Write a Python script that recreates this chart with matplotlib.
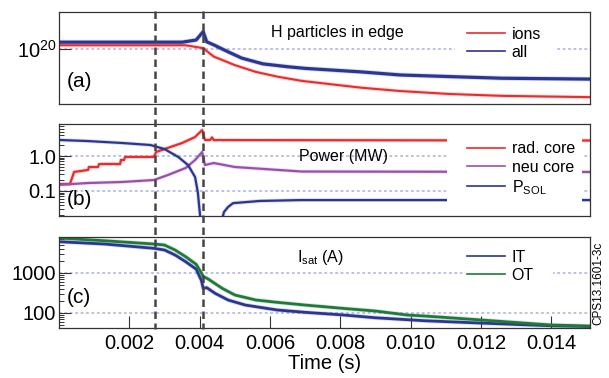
import numpy as np
import matplotlib
matplotlib.use("Agg")
import matplotlib.pyplot as plt
from matplotlib.lines import Line2D
from matplotlib.patches import Rectangle
from matplotlib.ticker import LogLocator, NullFormatter, FixedLocator
import matplotlib.transforms as mtransforms
import matplotlib.patheffects as pe

plt.rcParams['font.family'] = ['Liberation Sans', 'DejaVu Sans']
plt.rcParams['mathtext.fontset'] = 'custom'
plt.rcParams['mathtext.rm'] = 'Liberation Sans'
plt.rcParams['mathtext.it'] = 'Liberation Sans:italic'

# ---------------- data ----------------
# (a) H particles in edge (units of 1e20)
t_ions = [0, 0.0036, 0.0041, 0.0044, 0.0050, 0.0056, 0.0062, 0.0069, 0.0086, 0.0097, 0.0111, 0.0126, 0.0151]
ions = [1.09, 1.09, 1.02, 0.84, 0.69, 0.59, 0.53, 0.48, 0.41, 0.38, 0.355, 0.34, 0.33]
t_all = [0, 0.0035, 0.0039, 0.0041, 0.0042, 0.0044, 0.0048, 0.0052, 0.0058, 0.0065, 0.0070, 0.0086, 0.0097, 0.0111, 0.0126, 0.0151]
all_p = [1.17, 1.17, 1.23, 1.49, 1.18, 1.10, 0.94, 0.81, 0.71, 0.665, 0.64, 0.59, 0.55, 0.53, 0.51, 0.50]

# (b) Power (MW)
t_rad = [0, 0.00031, 0.00043, 0.00083, 0.00085, 0.00111, 0.00114, 0.00174, 0.00176, 0.00185, 0.00188,
         0.0027, 0.00276, 0.0030, 0.0035, 0.00387, 0.00407, 0.00415, 0.0043, 0.00435, 0.0044, 0.0151]
rad_core = [0.158, 0.158, 0.35, 0.40, 0.485, 0.485, 0.59, 0.59, 0.77, 0.77, 0.94,
            0.94, 1.30, 1.58, 2.35, 3.49, 5.5, 2.87, 2.87, 3.4, 2.85, 2.77]
t_neu = [0, 0.00083, 0.0018, 0.0027, 0.0031, 0.0036, 0.00387, 0.00407, 0.00415, 0.0044, 0.0050, 0.0069, 0.0151]
neu_core = [0.15, 0.169, 0.181, 0.206, 0.287, 0.454, 0.77, 1.30, 0.553, 0.63, 0.485, 0.36, 0.35]
t_psol = [0, 0.0008, 0.0018, 0.0026, 0.0030, 0.00339, 0.00367, 0.00387, 0.00395, 0.00404, 0.0043,
          0.00461, 0.00469, 0.00481, 0.00495, 0.00572, 0.00686, 0.0151]
p_sol = [2.87, 2.68, 2.35, 2.06, 1.58, 0.94, 0.55, 0.25, 0.088, 0.01, np.nan,
         0.012, 0.025, 0.035, 0.045, 0.052, 0.055, 0.055]

# (c) Isat (A)
t_ot = [0, 0.0013, 0.0027, 0.0030, 0.0033, 0.0036, 0.0039, 0.00405, 0.0041, 0.00424, 0.00464, 0.0050,
        0.0056, 0.0062, 0.0070, 0.0081, 0.0090, 0.0099, 0.0104, 0.0120, 0.0140, 0.0151]
ot = [7500, 6400, 5300, 5000, 3760, 2560, 1650, 1000, 820, 710, 414, 282,
      211, 185, 158, 130, 112, 89, 84, 67, 50, 47]
t_it = [0, 0.0013, 0.0027, 0.0030, 0.0033, 0.0036, 0.0039, 0.00405, 0.0041, 0.0042, 0.00444, 0.00481,
        0.0053, 0.0062, 0.0070, 0.0081, 0.0090, 0.0104, 0.0120, 0.0140, 0.0151]
it = [6060, 5300, 4140, 3760, 2820, 1920, 1250, 650, 414, 430, 310, 211,
      158, 119, 104, 89, 76, 64, 56, 48, 46]

t_events = [0.00273, 0.0041]
x_ticks = [0.002, 0.004, 0.006, 0.008, 0.010, 0.012, 0.014]
x_ticklabels = ['0.002', '0.004', '0.006', '0.008', '0.010', '0.012', '0.014']

# ---------------- style ----------------
RED = '#ee2a2a'
BLUE = '#2b3592'
PURPLE = '#9a4fae'
GREEN = '#1f7a3a'
GRID = '#b4bbe8'

W, H = 609, 378
fig = plt.figure(figsize=(W / 100, H / 100), dpi=100)

def ax_rect(top, bottom):
    return [59 / W, 1 - bottom / H, 531 / W, (bottom - top) / H]

ax_a = fig.add_axes(ax_rect(12, 104))
ax_b = fig.add_axes(ax_rect(124, 216))
ax_c = fig.add_axes(ax_rect(237, 328))

def halo(lw):
    return [pe.Stroke(linewidth=lw + 1.2, alpha=0.18), pe.Normal()]

for ax in (ax_a, ax_b, ax_c):
    ax.set_xlim(0, 0.0151)
    ax.set_yscale('log')
    for s in ax.spines.values():
        s.set_color('#333333')
        s.set_linewidth(0.9)
    ax.tick_params(axis='both', which='major', direction='in', length=8.5, width=0.8,
                   labelsize=14.5, pad=2, color='#333333')
    ax.tick_params(axis='both', which='minor', direction='in', length=3.5, width=0.7, color='#333333')
    ax.tick_params(axis='x', which='both', bottom=False, top=False, labelbottom=False)
    ax.tick_params(axis='y', which='both', right=False)

# panel a
ax_a.plot(t_ions, np.array(ions) * 1e20, color=RED, lw=1.5, zorder=2, path_effects=halo(1.5))
ax_a.plot(t_all, np.array(all_p) * 1e20, color=BLUE, lw=2.3, zorder=2, path_effects=halo(2.3))
ax_a.set_ylim(10 ** 19.45, 10 ** 20.37)
ax_a.yaxis.set_major_locator(FixedLocator([1e20]))
ax_a.set_yticklabels([r'$10^{20}$'])
ax_a.yaxis.set_minor_locator(FixedLocator([]))
ax_a.axhline(1e20, color=GRID, lw=1.3, ls=(0, (1.5, 1.5)), zorder=1)

# panel b
ax_b.plot(t_rad, rad_core, color=RED, lw=1.6, zorder=2, path_effects=halo(1.6))
ax_b.plot(t_neu, neu_core, color=PURPLE, lw=1.6, zorder=2, path_effects=halo(1.6))
ax_b.plot(t_psol, p_sol, color=BLUE, lw=1.6, zorder=2, path_effects=halo(1.6))
ax_b.set_ylim(10 ** (-1 - 25 / 35), 10 ** (32 / 35))
ax_b.yaxis.set_major_locator(FixedLocator([0.1, 1.0]))
ax_b.set_yticklabels(['0.1', '1.0'])
ax_b.yaxis.set_minor_locator(LogLocator(subs=np.arange(2, 10)))
ax_b.yaxis.set_minor_formatter(NullFormatter())
for g in (0.1, 1.0):
    ax_b.axhline(g, color=GRID, lw=1.3, ls=(0, (1.5, 1.5)), zorder=1)

# panel c
ax_c.plot(t_it, it, color=BLUE, lw=2.0, zorder=2, path_effects=halo(2.0))
ax_c.plot(t_ot, ot, color=GREEN, lw=2.0, zorder=2, path_effects=halo(2.0))
ax_c.set_ylim(10 ** 1.625, 10 ** 3.9)
ax_c.yaxis.set_major_locator(FixedLocator([100, 1000]))
ax_c.set_yticklabels(['100', '1000'])
ax_c.yaxis.set_minor_locator(LogLocator(subs=np.arange(2, 10)))
ax_c.yaxis.set_minor_formatter(NullFormatter())
for g in (100, 1000):
    ax_c.axhline(g, color=GRID, lw=1.3, ls=(0, (1.5, 1.5)), zorder=1)
ax_c.tick_params(axis='x', which='major', bottom=True, labelbottom=True, pad=4)
ax_c.set_xticks(x_ticks)
ax_c.set_xticklabels(x_ticklabels)
ax_c.set_xlabel('Time (s)', fontsize=14.5, labelpad=1)

# white covers behind legends
for ax, (x0, x1, y0, y1) in ((ax_a, (0.746, 0.934, 0.478, 0.859)),
                             (ax_b, (0.731, 0.985, 0.087, 0.935)),
                             (ax_c, (0.761, 0.930, 0.418, 0.912))):
    ax.add_patch(Rectangle((x0, y0), x1 - x0, y1 - y0, transform=ax.transAxes,
                           facecolor='white', edgecolor='none', zorder=3))

leg_kw = dict(loc='upper left', frameon=False, fontsize=11.5, handlelength=2.4,
              handletextpad=0.4, labelspacing=0.2, borderpad=0, borderaxespad=0)
hl = 1.2
la = ax_a.legend([Line2D([], [], color=RED, lw=hl), Line2D([], [], color=BLUE, lw=hl)],
                 ['ions', 'all'], bbox_to_anchor=(0.768, 0.84), **leg_kw)
la.set_zorder(5)
lb = ax_b.legend([Line2D([], [], color=RED, lw=hl), Line2D([], [], color=PURPLE, lw=hl),
                  Line2D([], [], color=BLUE, lw=hl)],
                 ['rad. core', 'neu core', r'P$_{\mathregular{SOL}}$'],
                 bbox_to_anchor=(0.768, 0.81), **leg_kw)
lb.set_zorder(5)
lc = ax_c.legend([Line2D([], [], color=BLUE, lw=hl), Line2D([], [], color=GREEN, lw=hl)],
                 ['IT', 'OT'], bbox_to_anchor=(0.768, 0.86), **leg_kw)
lc.set_zorder(5)

# titles in panels
ax_a.text(0.524, 0.772, 'H particles in edge', transform=ax_a.transAxes, fontsize=11.5,
          ha='center', va='center', zorder=5)
ax_b.text(0.535, 0.652, 'Power (MW)', transform=ax_b.transAxes, fontsize=11.5,
          ha='center', va='center', zorder=5)
ax_c.text(0.492, 0.77, r'I$_{\mathregular{sat}}$ (A)', transform=ax_c.transAxes, fontsize=11.5,
          ha='center', va='center', zorder=5)

for ax, lab, y in ((ax_a, '(a)', 0.24), (ax_b, '(b)', 0.174), (ax_c, '(c)', 0.34)):
    ax.text(0.014, y, lab, transform=ax.transAxes, fontsize=15, ha='left', va='center', zorder=5)

# dashed event lines spanning all panels
trans = mtransforms.blended_transform_factory(ax_c.transData, fig.transFigure)
for te in t_events:
    fig.add_artist(Line2D([te, te], [1 - 11 / H, 1 - 329 / H], transform=trans,
                          color='#454545', lw=1.8, ls=(0, (3.0, 1.8)), zorder=10))

fig.text(598 / W, 1 - 283 / H, 'CPS13.1601-3c', rotation=90, fontsize=8.5,
         ha='center', va='center')

fig.savefig('out.png', dpi=100)
